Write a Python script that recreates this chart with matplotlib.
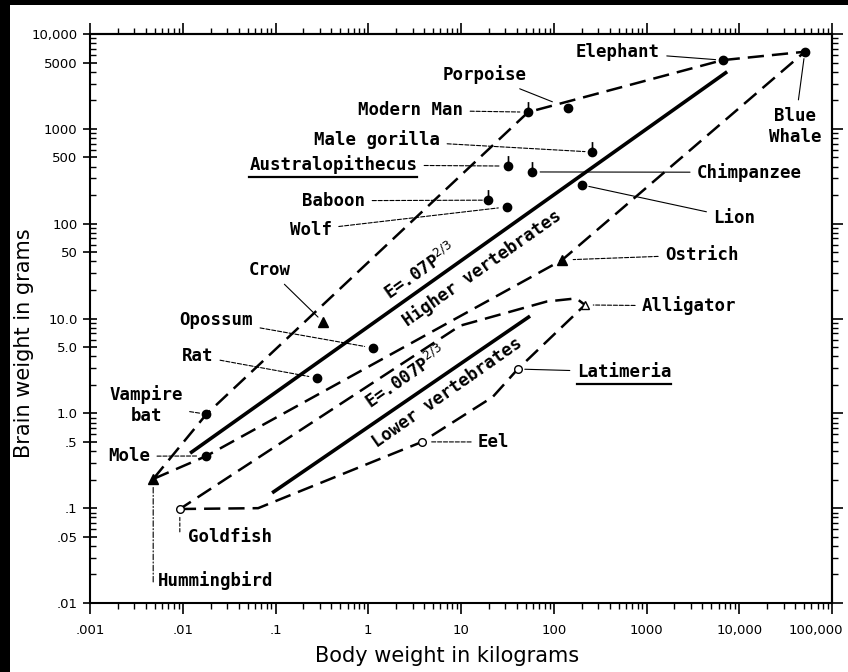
import numpy as np
import matplotlib
matplotlib.use("Agg")
import matplotlib.pyplot as plt
from matplotlib.path import Path
from matplotlib.lines import Line2D
from matplotlib.patches import Rectangle
from matplotlib.text import Text
from matplotlib.transforms import ScaledTranslation
from matplotlib.ticker import FixedLocator, FixedFormatter, LogLocator, NullFormatter

plt.rcParams["font.family"] = ["DejaVu Sans"]
plt.rcParams["axes.linewidth"] = 1.5

# body weight (kg) against brain weight (g)
species = ["Blue Whale", "Elephant", "Porpoise", "Modern Man", "Male gorilla",
           "Australopithecus", "Chimpanzee", "Lion", "Baboon", "Wolf", "Crow",
           "Opossum", "Rat", "Vampire bat", "Mole", "Hummingbird", "Goldfish",
           "Ostrich", "Alligator", "Latimeria", "Eel"]
body_kg = [51000, 6600, 142, 53, 258, 32, 58, 202, 19.5, 31, 0.325,
           1.12, 0.28, 0.018, 0.018, 0.0048, 0.0093, 123, 217, 41, 3.8]
brain_g = [6500, 5300, 1660, 1500, 570, 405, 351, 256, 177, 150, 9.2,
           4.9, 2.36, 0.98, 0.355, 0.203, 0.098, 41.4, 13.9, 2.93, 0.50]
# dot = mammal, stem = primate range, tri = bird, ring/opentri = lower vertebrates
kind = ["dot", "dot", "dot", "stem", "stem", "stem", "stem", "dot", "stem", "dot", "tri",
        "dot", "dot", "dot", "dot", "tri", "ring", "tri", "opentri", "ring", "ring"]

# dashed envelopes
higher_outline = ["Hummingbird", "Vampire bat", "Modern Man", "Elephant",
                  "Blue Whale", "Ostrich", "Mole", "Hummingbird"]
lower_outline_kg = [0.0093, 0.065, 3.8, 22, 41, 217, 175, 84, 9.8, 0.0093]
lower_outline_g = [0.098, 0.10, 0.50, 1.49, 2.93, 13.9, 16.3, 15.1, 8.4, 0.098]

# E = k P^(2/3) lines
higher_fit_kg = [0.012, 7400]
higher_fit_g = [0.38, 4000]
lower_fit_kg = [0.092, 55.5]
lower_fit_g = [0.145, 10.6]

xticks = [1e-3, 1e-2, 0.1, 1, 10, 100, 1000, 1e4, 1e5]
xticklabels = [".001", ".01", ".1", "1", "10", "100", "1000", "10,000", "100,000"]
yticks = [0.01, 0.05, 0.1, 0.5, 1, 5, 10, 50, 100, 500, 1000, 5000, 10000]
yticklabels = [".01", ".05", ".1", ".5", "1.0", "5.0", "10.0", "50", "100",
               "500", "1000", "5000", "10,000"]

fig = plt.figure(figsize=(8.48, 6.72), dpi=100, facecolor="black")
fig.add_artist(Rectangle((10 / 848, 0), 1, 1 - 5 / 672, transform=fig.transFigure,
                         facecolor="white", edgecolor="none", zorder=-10))
ax = fig.add_axes([90 / 848, 69 / 672, 742 / 848, 569 / 672])
ax.set_facecolor("white")
ax.set_xscale("log")
ax.set_yscale("log")
ax.set_xlim(1e-3, 1e5)
ax.set_ylim(1e-2, 1e4)

pts = dict(zip(species, zip(body_kg, brain_g)))

# envelopes and fitted lines
dash = dict(color="k", lw=1.8, dashes=(6.5, 3.2), zorder=3)
ax.plot([pts[n][0] for n in higher_outline], [pts[n][1] for n in higher_outline], **dash)
ax.plot(lower_outline_kg, lower_outline_g, **dash)
ax.plot(higher_fit_kg, higher_fit_g, color="k", lw=2.6, solid_capstyle="butt", zorder=3)
ax.plot(lower_fit_kg, lower_fit_g, color="k", lw=2.6, solid_capstyle="butt", zorder=3)

# dot with a short stem above it
stem_path = Path.make_compound_path(Path.unit_circle(),
                                    Path([(0, 1.0), (0, 2.6)], [Path.MOVETO, Path.LINETO]))
styles = {
    "dot": dict(marker="o", ms=6, mfc="k", mec="k"),
    "stem": dict(marker=stem_path, ms=15, mfc="k", mec="k", mew=1.2),
    "tri": dict(marker="^", ms=6.5, mfc="k", mec="k"),
    "ring": dict(marker="o", ms=5.5, mfc="white", mec="k", mew=1.0),
    "opentri": dict(marker="^", ms=6, mfc="white", mec="k", mew=1.0),
}
for k, st in styles.items():
    xs = [x for x, kk in zip(body_kg, kind) if kk == k]
    ys = [y for y, kk in zip(brain_g, kind) if kk == k]
    ax.plot(xs, ys, ls="none", zorder=5, **st)

# name labels: (x, y in axes fraction, alignment, leader style, leader gap)
lab_font = dict(family="DejaVu Sans Mono", weight="bold", size=12.5)
shown = {"Vampire bat": "Vampire\nbat", "Blue Whale": "Blue\nWhale"}
layout = {
    "Elephant": (0.768, 0.968, "right", "-", 5),
    "Porpoise": (0.589, 0.928, "right", "-", 12),
    "Modern Man": (0.503, 0.866, "right", "--", 6),
    "Male gorilla": (0.472, 0.814, "right", "--", 5),
    "Australopithecus": (0.441, 0.770, "right", "--", 6),
    "Chimpanzee": (0.818, 0.757, "left", "-", 6),
    "Lion": (0.840, 0.677, "left", "-", 5),
    "Baboon": (0.371, 0.707, "right", "--", 4),
    "Wolf": (0.326, 0.656, "right", "--", 6),
    "Crow": (0.270, 0.586, "right", "-", 5),
    "Opossum": (0.220, 0.497, "right", "--", 6),
    "Rat": (0.166, 0.434, "right", "--", 6),
    "Vampire bat": (0.0755, 0.348, "center", "--", 5),
    "Mole": (0.081, 0.258, "right", "--", 6),
    "Ostrich": (0.775, 0.612, "left", "--", 8),
    "Alligator": (0.744, 0.522, "left", "--", 6),
    "Latimeria": (0.656, 0.406, "left", "-", 5),
    "Eel": (0.523, 0.283, "left", "--", 6),
    "Blue Whale": (0.950, 0.838, "center", "-", 5),
    "Goldfish": (0.132, 0.116, "left", None, 0),
    "Hummingbird": (0.092, 0.040, "left", None, 0),
}
texts = {}
for name, (fx, fy, ha, ls, gap) in layout.items():
    arrow = None
    if ls is not None:
        arrow = dict(arrowstyle="-", color="k", lw=0.8, ls=ls, shrinkA=3, shrinkB=gap)
    texts[name] = ax.annotate(shown.get(name, name), xy=pts[name], xycoords="data",
                              xytext=(fx, fy), textcoords="axes fraction",
                              ha=ha, va="center", multialignment="center",
                              arrowprops=arrow, zorder=6, **lab_font)

# vertical leaders under the two smallest animals
for name, fy_end, ls in [("Hummingbird", 0.037, (0, (5, 2, 1, 2))), ("Goldfish", 0.125, (0, (3, 2)))]:
    ax.annotate("", xy=pts[name], xycoords="data", xytext=(pts[name][0], fy_end),
                textcoords=("data", "axes fraction"),
                arrowprops=dict(arrowstyle="-", color="k", lw=0.8, ls=ls, shrinkA=0, shrinkB=5))

# slanted labels along the two lines
slanted = [(r"E=.07P$^{2/3}$", 0.445, 0.583), ("Higher vertebrates", 0.528, 0.589),
           (r"E=.007P$^{2/3}$", 0.426, 0.396), ("Lower vertebrates", 0.481, 0.369)]
for s, fx, fy in slanted:
    ax.text(fx, fy, s, transform=ax.transAxes, rotation=35, rotation_mode="anchor",
            ha="center", va="center", zorder=6, **lab_font)

# axes, ticks
ax.xaxis.set_major_locator(FixedLocator(xticks))
ax.xaxis.set_major_formatter(FixedFormatter(xticklabels))
ax.yaxis.set_major_locator(FixedLocator(yticks))
ax.yaxis.set_major_formatter(FixedFormatter(yticklabels))
ax.xaxis.set_minor_locator(LogLocator(base=10, subs=np.arange(2, 10), numticks=100))
ax.yaxis.set_minor_locator(LogLocator(base=10, subs=np.arange(2, 10), numticks=100))
ax.xaxis.set_minor_formatter(NullFormatter())
ax.yaxis.set_minor_formatter(NullFormatter())
ax.tick_params(axis="x", which="major", direction="out", length=8, width=1.2, pad=7, labelsize=9.5)
ax.tick_params(axis="x", which="minor", direction="out", length=4, width=1)
ax.tick_params(axis="y", which="major", direction="inout", length=10, width=1.2, pad=4, labelsize=9.5)
ax.tick_params(axis="y", which="minor", direction="in", length=4, width=1)

# the last x label sits a little left of its tick so it stays on the sheet
last = ax.xaxis.get_major_ticks(len(xticks))[-1].label1
last.set_transform(last.get_transform() + ScaledTranslation(-0.16, 0, fig.dpi_scale_trans))

top = ax.secondary_xaxis("top")
right = ax.secondary_yaxis("right")
for sec in (top.xaxis, right.yaxis):
    sec.set_major_locator(LogLocator(base=10, numticks=20))
    sec.set_minor_locator(LogLocator(base=10, subs=np.arange(2, 10), numticks=100))
    sec.set_major_formatter(NullFormatter())
    sec.set_minor_formatter(NullFormatter())
for sec in (top, right):
    sec.tick_params(which="major", direction="out", length=8, width=1.2)
    sec.tick_params(which="minor", direction="out", length=4, width=1)
    for sp in sec.spines.values():
        sp.set_linewidth(1.5)

ax.set_xlabel("Body weight in kilograms", fontsize=15)
ax.set_ylabel("Brain weight in grams", fontsize=15)
ax.xaxis.set_label_coords(0.481, -0.075)
ax.yaxis.set_label_coords(-0.076, 0.457)

# underline the two fossil / relict names (text box only, not the leader)
fig.canvas.draw()
renderer = fig.canvas.get_renderer()
inv = fig.transFigure.inverted()
for name in ("Australopithecus", "Latimeria"):
    bb = Text.get_window_extent(texts[name], renderer)
    (x0, y0), (x1, _) = inv.transform([(bb.x0, bb.y0 - 3), (bb.x1, bb.y0 - 3)])
    fig.add_artist(Line2D([x0, x1], [y0, y0], transform=fig.transFigure, color="k", lw=1.6))

fig.savefig("out.png", dpi=100, facecolor=fig.get_facecolor())
